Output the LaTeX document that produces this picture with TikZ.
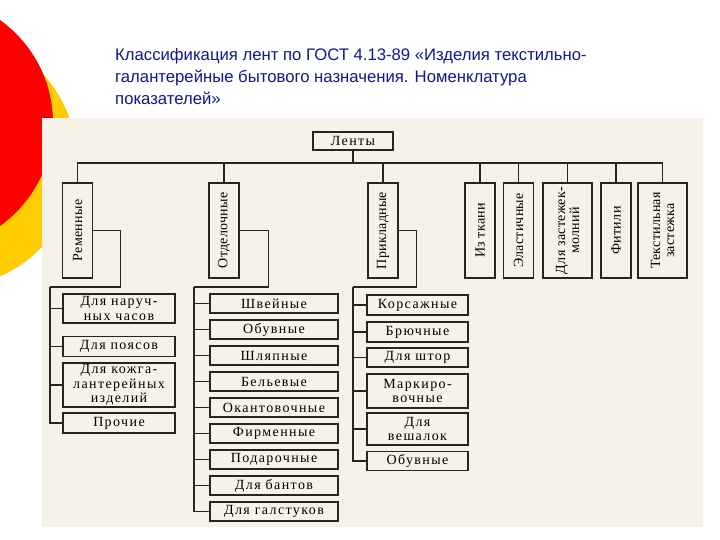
\documentclass[tikz,border=0pt]{standalone}
\usepackage{fontspec}
\usepackage{xcolor}
\setmainfont{Liberation Serif}
\newfontfamily\titlefont{Liberation Sans}
\newfontfamily\scanfont{Liberation Serif}[LetterSpace=10]
\newfontfamily\vscanfont{Liberation Serif}[LetterSpace=2]
\definecolor{panel}{RGB}{246,242,232}
\definecolor{ink}{RGB}{40,36,34}
\definecolor{titleblue}{RGB}{16,24,140}
\definecolor{discred}{RGB}{255,0,0}
\definecolor{discyellow}{RGB}{255,204,0}
\begin{document}
\begin{tikzpicture}[x=1pt, y=-1pt,
    box/.style={draw=ink, fill=panel, line width=1.1pt, inner sep=0pt, align=center,
        font=\fontsize{14}{14.5}\scanfont},
    vbox/.style={box, rotate=90, minimum width=95pt, minimum height=30pt,
        font=\fontsize{14}{14}\vscanfont},
    lbox/.style={box, minimum width=112pt},
    obox/.style={box, minimum width=128pt, minimum height=19pt},
    pbox/.style={box, minimum width=101pt},
    link/.style={draw=ink, line width=1.1pt}]
\clip (0,0) rectangle (720,540);
\fill[white] (0,0) rectangle (720,540);
\fill[discyellow] (-50,160) circle[radius=126.5pt];
\fill[discred] (-73.5,123) circle[radius=126.5pt];
\fill[panel] (42,118) rectangle (703,527);
\node[anchor=base west, align=left, inner sep=0pt, text=titleblue,
    font=\fontsize{16.7}{22}\titlefont] (title) at (115,105)
    {Классификация лент по ГОСТ 4.13-89 «Изделия текстильно-\\
     галантерейные бытового назначения. Номенклатура\\
     показателей»};
\node[box, minimum width=80pt, minimum height=18pt] (lenty) at (353,141) {Ленты};
\node[vbox] (rem) at (77.5,230.5) {Ременные};
\node[vbox] (otd) at (224,230.5) {Отделочные};
\node[vbox] (prik) at (383,230.5) {Прикладные};
\node[vbox] (tkan) at (480,230.5) {Из ткани};
\node[vbox] (elast) at (518.5,230.5) {Эластичные};
\node[vbox, minimum height=49pt] (molnii) at (567.5,230.5) {Для застежек-\\молний};
\node[vbox] (fitili) at (616,230.5) {Фитили};
\node[vbox, minimum height=49pt] (zastezhka) at (662.5,230.5) {Текстильная\\застежка};
\node[lbox, minimum height=29pt] (r1) at (119,308.5) {Для наруч-\\ных часов};
\node[lbox, minimum height=20pt] (r2) at (119,346.5) {Для поясов};
\node[lbox, minimum height=44pt] (r3) at (119,385) {Для кожга-\\лантерейных\\изделий};
\node[lbox, minimum height=20pt] (r4) at (119,423) {Прочие};
\foreach \t [count=\i] in {Швейные, Обувные, Шляпные, Бельевые, Окантовочные,
    Фирменные, Подарочные, Для бантов, Для галстуков}
  \node[obox] (o\i) at (274,277.5+26*\i) {\t};
\node[pbox, minimum height=20pt] (p1) at (417.5,305) {Корсажные};
\node[pbox, minimum height=20pt] (p2) at (417.5,332) {Брючные};
\node[pbox, minimum height=19pt] (p3) at (417.5,357.5) {Для штор};
\node[pbox, minimum height=34pt] (p4) at (417.5,391) {Маркиро-\\вочные};
\node[pbox, minimum height=32pt] (p5) at (417.5,429) {Для\\вешалок};
\node[pbox, minimum height=19pt] (p6) at (417.5,461) {Обувные};
\coordinate (bus) at (0,163);
\coordinate (spR) at (50,287);
\coordinate (spO) at (194,287);
\coordinate (spP) at (353,287);
\foreach \n in {rem,otd,prik,tkan,elast,molnii,fitili,zastezhka}
  \draw[link] (lenty.south) -- (lenty.south |- bus) -| (\n.east);
\draw[link] (rem.south) -- ++(27,0) |- (spR);
\draw[link] (spR) |- (r4.west);
\foreach \n in {r1,r2,r3}
  \draw[link] (\n.west) -- (\n.west -| spR);
\draw[link] (otd.south) -- ++(29,0) |- (spO);
\draw[link] (spO) |- (o9.west);
\foreach \i in {1,...,8}
  \draw[link] (o\i.west) -- (o\i.west -| spO);
\draw[link] (prik.south) -- ++(18,0) |- (spP);
\draw[link] (spP) |- (p6.west);
\foreach \n in {p1,p2,p3,p4,p5}
  \draw[link] (\n.west) -- (\n.west -| spP);
\end{tikzpicture}
\end{document}
